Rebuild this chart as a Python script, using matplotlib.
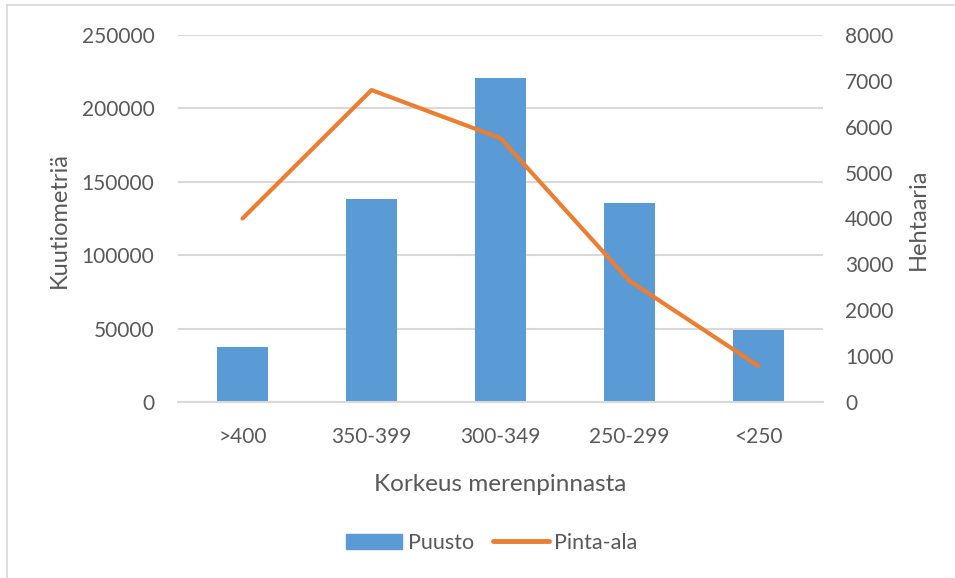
import matplotlib.pyplot as plt
from matplotlib.patches import Patch
from matplotlib.lines import Line2D

# korkeusvyöhykkeet ja arvot
luokat = ['>400', '350-399', '300-349', '250-299', '<250']
puusto = [37700, 138500, 221000, 135800, 49300]     # kuutiometriä
pinta_ala = [4000, 6800, 5750, 2640, 785]            # hehtaaria

sininen = '#5B9BD5'
oranssi = '#ED7D31'
harmaa = '#595959'
viiva = '#D9D9D9'

plt.rcParams['font.family'] = ['Lato', 'DejaVu Sans']
plt.rcParams['font.size'] = 15

fig = plt.figure(figsize=(9.55, 5.78), dpi=100)
ax = fig.add_axes([178/955, 1-402/578, 645/955, 367/578])
ax2 = ax.twinx()

x = range(len(luokat))
ax.bar(x, puusto, width=0.4, color=sininen, zorder=2)
ax2.plot(x, pinta_ala, color=oranssi, linewidth=3, solid_capstyle='round', zorder=3)

ax.set_xlim(-0.5, 4.5)
ax.set_ylim(0, 250000)
ax.set_yticks(range(0, 250001, 50000))
ax2.set_ylim(0, 8000)
ax2.set_yticks(range(0, 8001, 1000))
ax.set_xticks(list(x))
ax.set_xticklabels(luokat)

ax.grid(axis='y', color=viiva, linewidth=1.5, zorder=0)
ax.set_axisbelow(True)
for a in (ax, ax2):
    for s in a.spines.values():
        s.set_visible(False)
    a.tick_params(length=0, colors=harmaa, labelsize=15)
ax.spines['bottom'].set_visible(True)
ax.spines['bottom'].set_color(viiva)
ax.spines['bottom'].set_linewidth(1.5)
ax.tick_params(axis='y', pad=17)
ax.tick_params(axis='x', pad=18)
ax2.tick_params(axis='y', pad=16)

# akselien otsikot
ax.set_ylabel('Kuutiometriä', color=harmaa, fontsize=17)
ax.yaxis.set_label_coords(-0.168, 0.497)
ax2.set_ylabel('Hehtaaria', color=harmaa, fontsize=17)
ax2.yaxis.set_label_coords(1.131, 0.497)
ax.set_xlabel('Korkeus merenpinnasta', color=harmaa, fontsize=17.5)
ax.xaxis.set_label_coords(0.5, -0.196)

kahvat = [Patch(color=sininen), Line2D([], [], color=oranssi, linewidth=3.5, solid_capstyle='round')]
leg = fig.legend(kahvat, ['Puusto', 'Pinta-ala'], loc='center', bbox_to_anchor=(492/955, 1-543/578),
                 ncol=2, frameon=False, handlelength=2.6, handletextpad=0.25, columnspacing=0.9,
                 fontsize=15.5)
for t in leg.get_texts():
    t.set_color(harmaa)

# kaavion kehys
fig.add_artist(Line2D([7/955, 7/955], [0, 1-5/578], color=viiva, linewidth=1.2))
fig.add_artist(Line2D([7/955, 1], [1-5/578, 1-5/578], color=viiva, linewidth=1.2))

fig.savefig('out.png', dpi=100)
